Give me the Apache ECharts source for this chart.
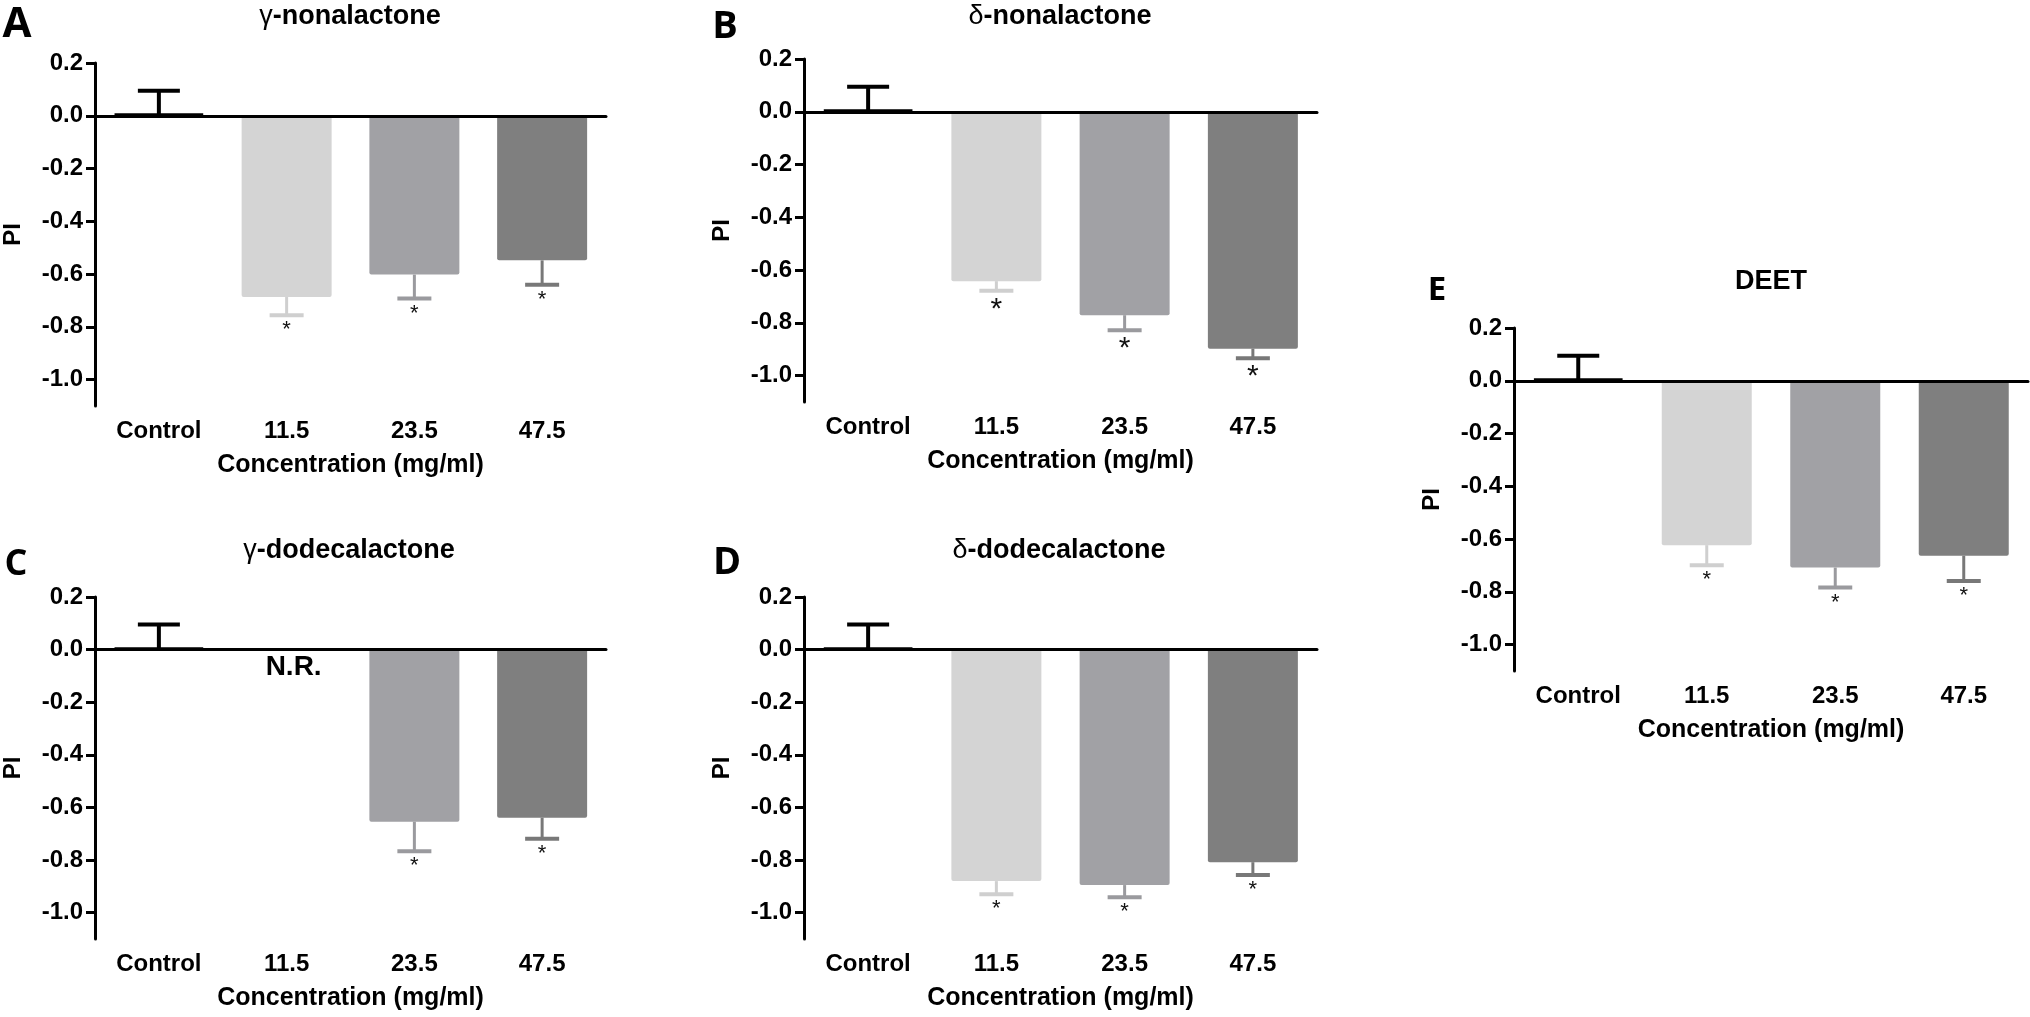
<!DOCTYPE html>
<html>
<head>
<meta charset="utf-8">
<script src="https://cdn.jsdelivr.net/npm/echarts@6/dist/echarts.min.js"></script>
<style>
html,body{margin:0;padding:0;background:#fff;}
#chart{width:2030px;height:1017px;}
</style>
</head>
<body>
<div id="chart"></div>
<script>
// ---------- data ----------
const categories = ['Control', '11.5', '23.5', '47.5'];
const tickValues = [-1.0, -0.8, -0.6, -0.4, -0.2, 0.0, 0.2];

const titles = ['γ-nonalactone', 'δ-nonalactone', 'γ-dodecalactone', 'δ-dodecalactone', 'DEET'];
const panelLetters = ['A', 'B', 'C', 'D', 'E'];

const meanA = [0.005, -0.687, -0.602, -0.548];
const seA   = [0.090,  0.069,  0.091,  0.092];
const meanB = [0.005, -0.642, -0.771, -0.898];
const seB   = [0.090,  0.036,  0.057,  0.036];
const meanC = [0.005,  null,  -0.654, -0.639];
const seC   = [0.090,  null,   0.112,  0.080];
const meanD = [0.005, -0.880, -0.895, -0.808];
const seD   = [0.090,  0.050,  0.046,  0.049];
const meanE = [0.005, -0.623, -0.708, -0.663];
const seE   = [0.090,  0.076,  0.076,  0.096];

const sigA = [false, true, true, true];
const sigB = [false, true, true, true];
const sigC = [false, false, true, true];
const sigD = [false, true, true, true];
const sigE = [false, true, true, true];

const notesC = ['', 'N.R.', '', ''];
const noNotes = ['', '', '', ''];

// ---------- styles ----------
const FONT = "'Liberation Sans', Arial, sans-serif";
const barColors = ['#000000', '#d4d4d4', '#a1a1a5', '#7f7f7f'];
const errColors = ['#000000', '#cfcfcf', '#9a9a9e', '#787878'];

const panels = [
  {mean: meanA, se: seA, sig: sigA, note: noNotes, grid: {left: 92, top: 63, width: 514, height: 343}, star: 22,
   title: [350, 17], letter: [17, 25], letterSize: 42},
  {mean: meanB, se: seB, sig: sigB, note: noNotes, grid: {left: 804, top: 59, width: 513, height: 343}, star: 30,
   title: [1060, 17], letter: [725, 27], letterSize: 38},
  {mean: meanC, se: seC, sig: sigC, note: notesC, grid: {left: 92, top: 597, width: 514, height: 342}, star: 22,
   title: [349, 551], letter: [16, 565], letterSize: 36},
  {mean: meanD, se: seD, sig: sigD, note: noNotes, grid: {left: 804, top: 597, width: 513, height: 342}, star: 22,
   title: [1059, 551], letter: [727, 563], letterSize: 38},
  {mean: meanE, se: seE, sig: sigE, note: noNotes, grid: {left: 1514, top: 328, width: 514, height: 343}, star: 22,
   title: [1771, 282], letter: [1437, 291], letterSize: 33}
];

function makeRender(p) {
  return function (params, api) {
    const i = params.dataIndex;
    const m = p.mean[i];
    const children = [];
    if (m != null) {
      const dir = m >= 0 ? 1 : -1;
      const end = m + dir * p.se[i];
      const a = api.coord([i, m]);
      const b = api.coord([i, end]);
      const color = errColors[i];
      const half = i === 0 ? 21 : 17;
      children.push({type: 'line', shape: {x1: a[0], y1: a[1], x2: b[0], y2: b[1]},
        style: {stroke: color, lineWidth: i === 0 ? 4 : 3}});
      children.push({type: 'line', shape: {x1: b[0] - half, y1: b[1], x2: b[0] + half, y2: b[1]},
        style: {stroke: color, lineWidth: 4}});
      if (p.sig[i]) {
        children.push({type: 'text', x: b[0], y: b[1] + 4,
          style: {text: '*', fill: '#111', font: 'normal ' + p.star + 'px ' + FONT,
                  textAlign: 'center', textVerticalAlign: 'top'}});
      }
    }
    if (p.note[i]) {
      const z = api.coord([i, 0]);
      children.push({type: 'text', x: z[0] + 7, y: z[1] + 18,
        style: {text: p.note[i], fill: '#000', font: 'bold 28px ' + FONT,
                textAlign: 'center', textVerticalAlign: 'middle'}});
    }
    return {type: 'group', children: children};
  };
}

const grid = [], xAxis = [], yAxis = [], series = [], graphic = [];
panels.forEach(function (p, k) {
  grid.push(Object.assign({containLabel: false}, p.grid));
  xAxis.push({
    type: 'category', gridIndex: k, data: categories,
    axisLine: {lineStyle: {color: '#000', width: 3}},
    axisTick: {alignWithLabel: true, length: 9, lineStyle: {color: '#000', width: 3}},
    axisLabel: {color: '#000', fontFamily: FONT, fontWeight: 'bold', fontSize: 24, margin: 13},
    name: 'Concentration (mg/ml)', nameLocation: 'middle', nameGap: 47,
    nameTextStyle: {color: '#000', fontFamily: FONT, fontWeight: 'bold', fontSize: 25},
    splitLine: {show: false}
  });
  yAxis.push({
    type: 'value', gridIndex: k, min: -1.1, max: 0.2, interval: 0.1,
    axisLine: {show: true, lineStyle: {color: '#000', width: 3}},
    axisTick: {show: true, customValues: tickValues, length: 9, lineStyle: {color: '#000', width: 3}},
    axisLabel: {customValues: tickValues, color: '#000', fontFamily: FONT, fontWeight: 'bold', fontSize: 24,
                margin: 12, formatter: function (v) { return v.toFixed(1); }},
    splitLine: {show: false},
    name: 'PI', nameLocation: 'middle', nameGap: 70,
    nameTextStyle: {color: '#000', fontFamily: FONT, fontWeight: 'bold', fontSize: 24}
  });
  series.push({
    type: 'bar', xAxisIndex: k, yAxisIndex: k, barWidth: 90,
    data: p.mean.map(function (m, i) {
      if (m == null) return '-';
      return {value: m, itemStyle: {color: barColors[i], borderRadius: 2,
        borderColor: i === 0 ? '#000' : barColors[i], borderWidth: i === 0 ? 3.5 : 0}};
    }),
    markLine: {silent: true, symbol: ['none', 'none'], label: {show: false},
      lineStyle: {color: '#000', width: 3, type: 'solid'}, data: [{yAxis: 0}]},
    z: 2
  });
  series.push({
    type: 'custom', xAxisIndex: k, yAxisIndex: k,
    data: p.mean.map(function (m, i) { return [i, m == null ? 0 : m]; }),
    renderItem: makeRender(p), z: 5
  });
  graphic.push({type: 'text', x: p.title[0], y: p.title[1],
    style: {text: (titles[k].charAt(0) === 'γ' || titles[k].charAt(0) === 'δ')
              ? '{g|' + titles[k].charAt(0) + '}' + titles[k].slice(1) : titles[k],
            fill: '#000', font: 'bold 27px ' + FONT, textAlign: 'center', textVerticalAlign: 'middle',
            rich: {g: {fontFamily: FONT, fontWeight: 'normal', fontSize: 27, fill: '#000'}}}});
  graphic.push({type: 'text', x: p.letter[0], y: p.letter[1],
    style: {text: panelLetters[k], fill: '#000', font: 'bold ' + p.letterSize + "px 'Open Sans', 'Noto Sans', sans-serif",
            textAlign: 'center', textVerticalAlign: 'middle'}});
});

const chart = echarts.init(document.getElementById('chart'), null, {renderer: 'canvas'});
chart.setOption({
  animation: false,
  backgroundColor: '#ffffff',
  grid: grid, xAxis: xAxis, yAxis: yAxis, series: series, graphic: graphic
});
</script>
</body>
</html>
